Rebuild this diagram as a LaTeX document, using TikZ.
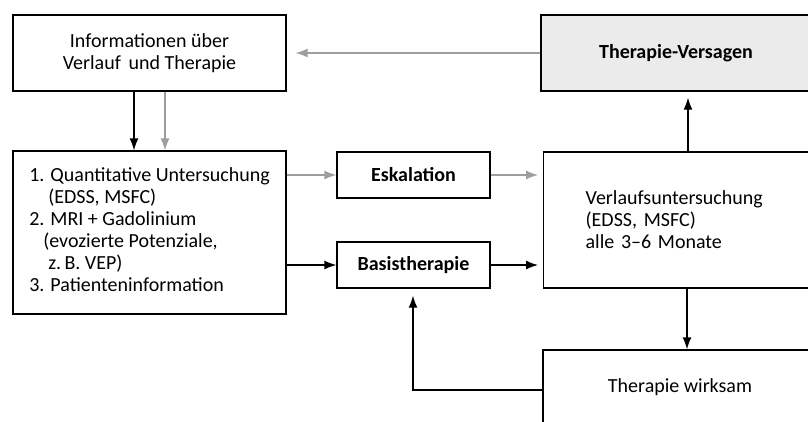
\documentclass[tikz,border=0pt]{standalone}
\usepackage{fontspec}
\setmainfont{Carlito}
\usetikzlibrary{arrows.meta}

\tikzset{
    box/.style={draw, rectangle, line width=1.3pt, inner sep=0pt},
    grayline/.style={color=black!38},
}
\newcommand{\eingerueckt}[2]{\multicolumn{1}{@{\hspace{#1}}l@{}}{#2}}

\begin{document}
\begin{tikzpicture}[x=1pt, y=-1pt, line width=1.3pt, >={Latex[length=12pt, width=9pt]},
    font=\fontsize{20}{22}\selectfont]

    \useasboundingbox (0, 0) rectangle (808, 421);
    \clip (0, 0) rectangle (808, 421);

    % Nodes
    \node at (149.5, 53) (info) [box, minimum width=273, minimum height=76, align=center]
        {Informationen über\\Verlauf\, und Therapie};
    \node at (676, 53) (versagen) [box, fill=black!8, minimum width=270, minimum height=76]
        {\bfseries Therapie-Versagen};

    \node at (149.5, 232.5) (unters) [box, minimum width=273, minimum height=163]
        {\begin{tabular}{@{}l@{}}
         1. Quantitative Untersuchung\\
         \eingerueckt{19pt}{(EDSS, MSFC)}\\
         2. MRI + Gadolinium\\
         \eingerueckt{14pt}{(evozierte Potenziale,}\\
         \eingerueckt{19pt}{z.\,B. VEP)}\\
         3. Patienteninformation
         \end{tabular}};

    \node at (413.5, 175) (eskal) [box, minimum width=153, minimum height=46] {\bfseries Eskalation};
    \node at (413.5, 265) (basis) [box, minimum width=153, minimum height=46] {\bfseries Basistherapie};

    \node at (543, 220) (verlauf) [box, anchor=west, minimum height=136, text width=210, inner xsep=42, align=left]
        {Verlaufsuntersuchung\\(EDSS, MSFC)\\alle 3–6 Monate};
    \node at (680, 387) (wirksam) [box, minimum width=274, minimum height=74] {Therapie wirksam};

    \coordinate (knick) at (413, 390);

    % Arrows
    \draw[->, grayline, shorten >=9pt] (versagen.west) -- (info.east);
    \draw[->] (info.south -| 134, 0) -- (unters.north -| 134, 0);
    \draw[->, grayline] (info.south -| 165, 0) -- (unters.north -| 165, 0);

    \draw[->, grayline] (unters.east |- eskal) -- (eskal.west);
    \draw[->, grayline, shorten >=5pt] (eskal.east) -- (verlauf.west |- eskal);
    \draw[->] (unters.east |- basis) -- (basis.west);
    \draw[->, shorten >=5pt] (basis.east) -- (verlauf.west |- basis);

    \draw[->, shorten >=6pt] (verlauf.north -| 688, 0) -- (versagen.south -| 688, 0);
    \draw[->] (verlauf.south -| 687, 0) -- (wirksam.north -| 687, 0);

    \draw[->, shorten >=7pt] (wirksam.west |- knick) -- (knick) -- (basis.south -| knick);

\end{tikzpicture}
\end{document}
